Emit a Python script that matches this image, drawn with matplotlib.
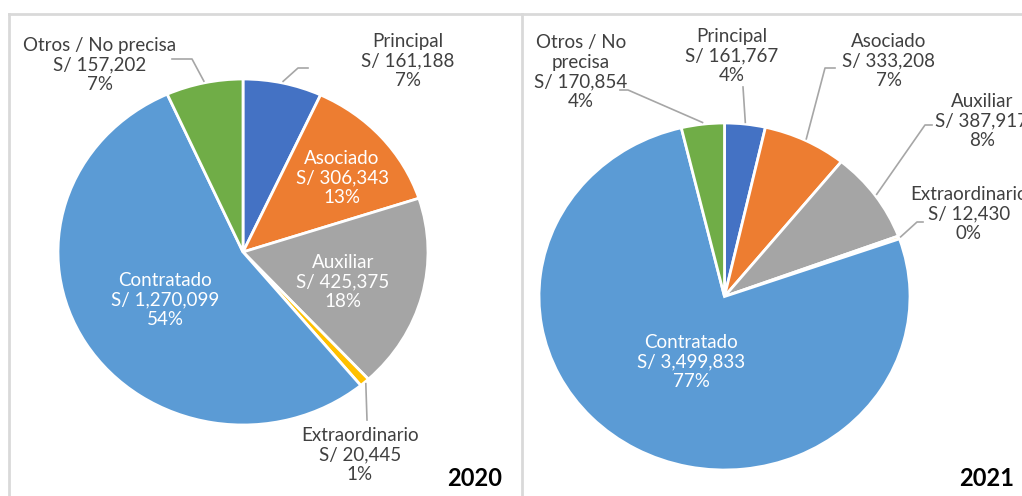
import numpy as np
import matplotlib.pyplot as plt

plt.rcParams['font.family'] = ['Lato', 'DejaVu Sans']

# datos
categorias = ['Principal', 'Asociado', 'Auxiliar', 'Extraordinario', 'Contratado', 'Otros / No precisa']
montos_2020 = [161188, 306343, 425375, 20445, 1270099, 157202]
montos_2021 = [161767, 333208, 387917, 12430, 3499833, 170854]
nombres_2021 = ['Principal', 'Asociado', 'Auxiliar', 'Extraordinario', 'Contratado', 'Otros / No\nprecisa']
colores = ['#4472C4', '#ED7D31', '#A5A5A5', '#FFC000', '#5B9BD5', '#70AD47']

W, H = 1022, 496
fig = plt.figure(figsize=(W / 100, H / 100), dpi=100)

# capa de fondo en pixeles (bordes, textos, lineas guia)
bg = fig.add_axes([0, 0, 1, 1], zorder=5)
bg.set_xlim(0, W)
bg.set_ylim(H, 0)
bg.axis('off')

borde = '#D9D9D9'
bg.plot([9, 9], [14, H], color=borde, lw=2)
bg.plot([9, W], [14, 14], color=borde, lw=2)
bg.plot([522, 522], [14, H], color=borde, lw=2)

# layout de cada pie: centro, radios, posicion de etiquetas, lineas guia
paneles = [
    dict(vals=montos_2020, nombres=categorias, anio='2020', c=(243, 252), r=(185, 173),
         year_xy=(475, 478),
         pos=[(408, 61), (342, 178), (343, 282), (360, 455), (165, 300), (100, 65)],
         blanco=[False, True, True, False, True, False],
         guia={0: [(308, 68), (298, 68)], 5: [(172, 59), (192, 59)], 3: [(367, 420), (367, 420)]}),
    dict(vals=montos_2021, nombres=nombres_2021, anio='2021', c=(724.5, 296.5), r=(185.5, 173.5),
         year_xy=(987, 478),
         pos=[(732, 56), (889, 61), (982, 121), (969, 214), (691, 362), (581, 72)],
         blanco=[False, False, False, False, True, False],
         guia={5: [(620, 90), (628, 90)], 0: [(743, 87), (743, 87)], 1: [(835, 68), (825, 68)],
               2: [(932, 125), (925, 125)], 3: [(923, 222), (917, 222)]}),
]

for p in paneles:
    cx, cy = p['c']
    rx, ry = p['r']
    ax = fig.add_axes([(cx - rx) / W, 1 - (cy + ry) / H, 2 * rx / W, 2 * ry / H])
    wedges, _ = ax.pie(p['vals'], colors=colores, startangle=90, counterclock=False, radius=1,
                       wedgeprops=dict(edgecolor='white', linewidth=2))
    for w in wedges:
        w.set_clip_on(False)
    ax.set_aspect('auto')
    ax.set_xlim(-1, 1)
    ax.set_ylim(-1, 1)
    ax.axis('off')

    vals = np.array(p['vals'], dtype=float)
    frac = vals / vals.sum()
    cum = np.cumsum(frac) - frac
    for i in range(len(vals)):
        txt = f"{p['nombres'][i]}\nS/ {p['vals'][i]:,}\n{round(frac[i] * 100)}%"
        col = 'white' if p['blanco'][i] else '#404040'
        x, y = p['pos'][i]
        bg.text(x, y, txt, ha='center', va='center', multialignment='center',
                fontsize=13.5, color=col, linespacing=1.2)
        if i in p['guia']:
            ang = np.deg2rad(90 - 360 * (cum[i] + frac[i] / 2))
            xw = cx + rx * 1.01 * np.cos(ang)
            yw = cy - ry * 1.01 * np.sin(ang)
            (x0, y0), (x1, y1) = p['guia'][i]
            bg.plot([x0, x1, xw], [y0, y1, yw], color='#A6A6A6', lw=1.2)

    bg.text(p['year_xy'][0], p['year_xy'][1], p['anio'], ha='center', va='center',
            fontsize=17, fontweight='bold', color='black')

fig.savefig('out.png', dpi=100)
